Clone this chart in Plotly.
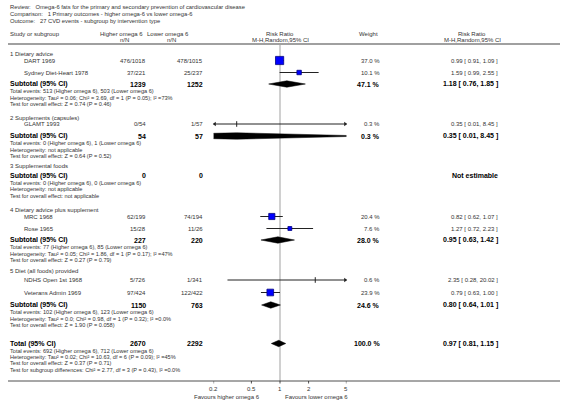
import numpy as np
import plotly.graph_objects as go

# ---------------- data ----------------
title_lines = [
    "Review:   Omega-6 fats for the primary and secondary prevention of cardiovascular disease",
    "Comparison:   1 Primary outcomes - higher omega-6 vs lower omega-6",
    "Outcome:   27 CVD events - subgroup by intervention type",
]
group_names = ["1 Dietary advice", "2 Supplements (capsules)", "3 Supplemental foods",
               "4 Dietary advice plus supplement", "5 Diet (all foods) provided"]
study_names = ["DART 1969", "Sydney Diet-Heart 1978", "GLAMT 1993", "MRC 1968",
               "Rose 1965", "NDHS Open 1st 1968", "Veterans Admin 1969"]
study_group = [0, 0, 1, 3, 3, 4, 4]
high_nN = ["476/1018", "37/221", "0/54", "62/199", "15/28", "5/726", "97/424"]
low_nN = ["478/1015", "25/237", "1/57", "74/194", "11/26", "1/341", "122/422"]
study_weight = [37.0, 10.1, 0.3, 20.4, 7.6, 0.6, 23.9]
study_rr = [0.99, 1.59, 0.35, 0.82, 1.27, 2.35, 0.79]
study_lo = [0.91, 0.99, 0.01, 0.62, 0.72, 0.28, 0.63]
study_hi = [1.09, 2.55, 8.45, 1.07, 2.23, 20.02, 1.00]

sub_high_N = ["1239", "54", "0", "227", "1150"]
sub_low_N = ["1252", "57", "0", "220", "763"]
sub_weight = [47.1, 0.3, None, 28.0, 24.6]
sub_rr = [1.18, 0.35, None, 0.95, 0.80]
sub_lo = [0.76, 0.01, None, 0.63, 0.64]
sub_hi = [1.85, 8.45, None, 1.42, 1.01]
sub_stats = [
    ["Total events: 513 (Higher omega 6), 503 (Lower omega 6)",
     "Heterogeneity: Tau² = 0.06; Chi² = 3.69, df = 1 (P = 0.05); I² =73%",
     "Test for overall effect: Z = 0.74 (P = 0.46)"],
    ["Total events: 0 (Higher omega 6), 1 (Lower omega 6)",
     "Heterogeneity: not applicable",
     "Test for overall effect: Z = 0.64 (P = 0.52)"],
    ["Total events: 0 (Higher omega 6), 0 (Lower omega 6)",
     "Heterogeneity: not applicable",
     "Test for overall effect: not applicable"],
    ["Total events: 77 (Higher omega 6), 85 (Lower omega 6)",
     "Heterogeneity: Tau² = 0.05; Chi² = 1.86, df = 1 (P = 0.17); I² =47%",
     "Test for overall effect: Z = 0.27 (P = 0.79)"],
    ["Total events: 102 (Higher omega 6), 123 (Lower omega 6)",
     "Heterogeneity: Tau² = 0.0; Chi² = 0.98, df = 1 (P = 0.32); I² =0.0%",
     "Test for overall effect: Z = 1.90 (P = 0.058)"],
]
total_high_N = "2670"
total_low_N = "2292"
total_weight = 100.0
total_rr, total_lo, total_hi = 0.97, 0.81, 1.15
total_stats = [
    "Total events: 692 (Higher omega 6), 712 (Lower omega 6)",
    "Heterogeneity: Tau² = 0.02; Chi² = 10.63, df = 6 (P = 0.09); I² =45%",
    "Test for overall effect: Z = 0.37 (P = 0.71)",
    "Test for subgroup differences: Chi² = 2.77, df = 3 (P = 0.43), I² =0.0%",
]
tick_vals = [0.2, 0.5, 1, 2, 5]
tick_text = ["0.2", "0.5", "1", "2", "5"]
favours_left = "Favours higher omega 6"
favours_right = "Favours lower omega 6"

# ---------------- layout (pixel rows) ----------------
W, H = 566, 404
XMIN, XMAX = 0.2, 5.0
PLOT_L, PLOT_R = 213.6, 346.4
study_y = [60.5, 72.5, 124, 216.5, 228.5, 280, 292.5]
group_y = [53.5, 117.5, 166, 210, 271]
sub_y = [84, 136, 175.5, 240, 305]
stats_dy = [7.3, 13.8, 20.3]
total_y = 343.5
header_line_y = 44
axis_y = 381

FONT = "Liberation Sans, Arial, sans-serif"
TXT = "#333333"

fig = go.Figure()
ann = []


def px(x):
    return x / W


def text(x, y, s, size=6, anchor="left", bold=False, color=TXT):
    ann.append(dict(x=px(x), y=y, xref="paper", yref="y", text=("<b>%s</b>" % s) if bold else s,
                    showarrow=False, xanchor=anchor, yanchor="middle",
                    font=dict(family=FONT, size=size, color=color)))


# titles
for i, t in enumerate(title_lines):
    text(8, 7 + 6.8 * i, t, size=5.8)

# headers
text(8, 34, "Study or subgroup", 6)
text(121, 34, "Higher omega 6", 6, "center")
text(124, 40, "n/N", 6, "center")
text(168, 34, "Lower omega 6", 6, "center")
text(171, 40, "n/N", 6, "center")
text(280, 34, "Risk Ratio", 6, "center")
text(280, 40, "M-H,Random,95% CI", 6, "center")
text(368, 34, "Weight", 6, "center")
text(472, 34, "Risk Ratio", 6, "center")
text(472, 40, "M-H,Random,95% CI", 6, "center")

COL_HI, COL_LO, COL_W, COL_CI = 148, 205, 382, 500


def ci_str(rr, lo, hi):
    return "%.2f [ %.2f, %.2f ]" % (rr, lo, hi)


# groups
for g, name in enumerate(group_names):
    text(8, group_y[g], name, 6)
    y = sub_y[g]
    text(8, y, "Subtotal (95% CI)", 7, bold=True, color="black")
    text(COL_HI, y, sub_high_N[g], 7, "right", bold=True, color="black")
    text(COL_LO, y, sub_low_N[g], 7, "right", bold=True, color="black")
    if sub_rr[g] is None:
        text(COL_CI, y, "Not estimable", 7, "right", bold=True, color="black")
    else:
        text(COL_W, y, "%.1f %%" % sub_weight[g], 7, "right", bold=True, color="black")
        text(COL_CI, y, ci_str(sub_rr[g], sub_lo[g], sub_hi[g]), 7, "right", bold=True, color="black")
        fig.add_trace(go.Scatter(
            x=[sub_lo[g], sub_rr[g], sub_hi[g], sub_rr[g], sub_lo[g]],
            y=[y, y - 3.2, y, y + 3.2, y], mode="lines", fill="toself",
            fillcolor="black", line=dict(color="black", width=0.5), hoverinfo="skip"))
    for k, s in enumerate(sub_stats[g]):
        text(8, y + stats_dy[k], s, 5.6)

# studies
for i, name in enumerate(study_names):
    y = study_y[i]
    text(22, y, name, 6)
    text(COL_HI, y, high_nN[i], 6, "right")
    text(COL_LO, y, low_nN[i], 6, "right")
    text(COL_W, y, "%.1f %%" % study_weight[i], 6, "right")
    text(COL_CI, y, ci_str(study_rr[i], study_lo[i], study_hi[i]), 6, "right")
    lo, hi = study_lo[i], study_hi[i]
    fig.add_trace(go.Scatter(x=[lo, hi], y=[y, y], mode="lines",
                             line=dict(color="#222222", width=1), hoverinfo="skip"))
    if lo < XMIN:
        fig.add_trace(go.Scatter(x=[XMIN * 1.03], y=[y], mode="markers",
                                 marker=dict(symbol="triangle-left", size=4, color="#222222"),
                                 cliponaxis=False, hoverinfo="skip"))
    if hi > XMAX:
        fig.add_trace(go.Scatter(x=[XMAX / 1.03], y=[y], mode="markers",
                                 marker=dict(symbol="triangle-right", size=4, color="#222222"),
                                 cliponaxis=False, hoverinfo="skip"))
    w = study_weight[i]
    if w < 1:
        fig.add_trace(go.Scatter(x=[study_rr[i]], y=[y], mode="markers",
                                 marker=dict(symbol="line-ns", size=4,
                                             line=dict(color="#222222", width=1)),
                                 hoverinfo="skip"))
    else:
        fig.add_trace(go.Scatter(x=[study_rr[i]], y=[y], mode="markers",
                                 marker=dict(symbol="square", size=1.3 * np.sqrt(w) + 0.3,
                                             color="#0000ff",
                                             line=dict(color="#000080", width=0.8)),
                                 hoverinfo="skip"))

# total
text(8, total_y, "Total (95% CI)", 7, bold=True, color="black")
text(COL_HI, total_y, total_high_N, 7, "right", bold=True, color="black")
text(COL_LO, total_y, total_low_N, 7, "right", bold=True, color="black")
text(COL_W, total_y, "%.1f %%" % total_weight, 7, "right", bold=True, color="black")
text(COL_CI, total_y, ci_str(total_rr, total_lo, total_hi), 7, "right", bold=True, color="black")
fig.add_trace(go.Scatter(
    x=[total_lo, total_rr, total_hi, total_rr, total_lo],
    y=[total_y, total_y - 3.2, total_y, total_y + 3.2, total_y], mode="lines", fill="toself",
    fillcolor="black", line=dict(color="black", width=0.5), hoverinfo="skip"))
for k, s in enumerate(total_stats):
    text(8, total_y + 7 + 6.4 * k, s, 5.6)

# reference line at 1
fig.add_trace(go.Scatter(x=[1, 1], y=[header_line_y, axis_y], mode="lines",
                         line=dict(color="#d0d0d0", width=2), hoverinfo="skip"))
fig.data = (fig.data[-1],) + fig.data[:-1]

# axis ticks / labels
for v, t in zip(tick_vals, tick_text):
    ann.append(dict(x=np.log10(v), y=389, xref="x", yref="y", text=t, showarrow=False,
                    xanchor="center", yanchor="middle",
                    font=dict(family=FONT, size=6, color=TXT)))
fig.add_trace(go.Scatter(
    x=[v for v in tick_vals for _ in range(3)],
    y=[yy for _ in tick_vals for yy in (axis_y, axis_y + 2.5, None)],
    mode="lines", line=dict(color="#222222", width=0.8), cliponaxis=False, hoverinfo="skip"))
text(262, 397, favours_left, 6, "right")
text(283, 397, favours_right, 6, "left")

shapes = [
    dict(type="line", xref="paper", yref="y", x0=px(8), x1=px(560), y0=header_line_y,
         y1=header_line_y, line=dict(color="#a0a0a0", width=2)),
    dict(type="line", xref="paper", yref="y", x0=px(8), x1=px(560), y0=axis_y, y1=axis_y,
         line=dict(color="#222222", width=0.8)),
]

fig.update_layout(
    width=W, height=H, autosize=False,
    margin=dict(l=0, r=0, t=0, b=0, pad=0),
    paper_bgcolor="white", plot_bgcolor="rgba(0,0,0,0)",
    showlegend=False,
    xaxis=dict(type="log", range=[np.log10(XMIN), np.log10(XMAX)],
               domain=[PLOT_L / W, PLOT_R / W], visible=False, fixedrange=True),
    yaxis=dict(range=[H, 0], domain=[0, 1], visible=False, fixedrange=True),
    annotations=ann, shapes=shapes,
)

fig.write_html("out.html", config={"displayModeBar": False},
               post_script="document.body.style.margin='0';document.body.style.overflow='hidden';")
